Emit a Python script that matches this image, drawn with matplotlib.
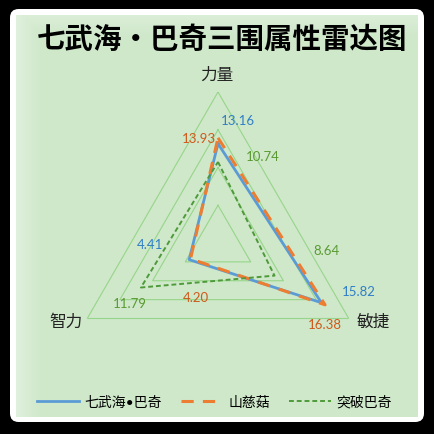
import matplotlib.pyplot as plt
import numpy as np
from matplotlib.patches import FancyBboxPatch, Rectangle

plt.rcParams['font.family'] = ['Noto Sans CJK SC', 'DejaVu Sans']

# data
categories = ['力量', '敏捷', '智力']
series_names = ['七武海•巴奇', '山慈菇', '突破巴奇']
bucky = [13.16, 15.82, 4.41]
shanci = [13.93, 16.38, 4.20]
breakthrough = [10.74, 8.64, 11.79]
grid_levels = [5, 10, 15, 20]

colors = ['#5B9BD5', '#ED7D31', '#4E9A3A']
label_colors = ['#2F7EC7', '#D0581A', '#5A9A32']

# label offsets in pixels (from each point)
label_offsets = [
    [(20, 24), (37, 12), (-39, 16)],
    [(-19, 0), (0, -19), (5, -38)],
    [(45, 6), (52, 26), (-11, -15)],
]

W = H = 435
fig = plt.figure(figsize=(4.35, 4.35), dpi=100, facecolor='black')

# white frame + green panel
fig.patches.append(FancyBboxPatch((10 / W, 12 / H), 414 / W, 413 / H,
                                  boxstyle='round,pad=0,rounding_size=0.02',
                                  transform=fig.transFigure, facecolor='white',
                                  edgecolor='none', zorder=0))
fig.patches.append(Rectangle((16 / W, 17 / H), 402 / W, 402 / H,
                             transform=fig.transFigure, facecolor='#CFE8CA',
                             edgecolor='none', zorder=0))

# soft light glow along the left / top edge of the panel
bg = fig.add_axes([16 / W, 17 / H, 402 / W, 402 / H])
bg.set_zorder(1)
bg.axis('off')
xx, yy = np.meshgrid(np.linspace(0, 1, 200), np.linspace(0, 1, 200))
glow = np.clip(1 - np.minimum(xx / 0.06, 1), 0, 1) * 0.35
glow = np.maximum(glow, np.clip(1 - yy / 0.05, 0, 1) * 0.25)
img = np.zeros((200, 200, 4))
img[..., :3] = 1
img[..., 3] = glow
bg.imshow(img, extent=(0, 1, 0, 1), origin='upper', aspect='auto')

fig.text(222 / W, 1 - 40 / H, '七武海・巴奇三围属性雷达图', ha='center', va='center',
         fontsize=20.5, fontweight='bold', color='black', zorder=5)

cx, cy, rad = 218 / W, 1 - 244 / H, 151 / W
ax = fig.add_axes([cx - rad, cy - rad, 2 * rad, 2 * rad], projection='polar')
ax.set_zorder(2)
ax.set_theta_zero_location('N')
ax.set_theta_direction(-1)
ax.set_ylim(0, 20)
ax.patch.set_alpha(0)
ax.grid(False)
ax.spines['polar'].set_visible(False)
ax.set_xticks([])
ax.set_yticks([])

angles = np.linspace(0, 2 * np.pi, len(categories), endpoint=False)
closed = np.append(angles, angles[0])

for lv in grid_levels:
    ax.plot(closed, [lv] * len(closed), color='#97D58A', lw=0.8, zorder=1)

styles = [
    dict(ls='-', lw=2.0),
    dict(ls=(0, (4, 3)), lw=2.2),
    dict(ls=(0, (2.5, 1.5)), lw=1.4),
]
all_vals = [bucky, shanci, breakthrough]
for vals, name, c, st in zip(all_vals, series_names, colors, styles):
    ax.plot(closed, vals + vals[:1], color=c, label=name, zorder=3, **st)

for vals, offs, lc in zip(all_vals, label_offsets, label_colors):
    for a, v, off in zip(angles, vals, offs):
        ax.annotate(f'{v:.2f}', xy=(a, v), xytext=off, textcoords='offset pixels',
                    ha='center', va='center', fontsize=9.5, color=lc,
                    family=['Lato', 'DejaVu Sans'], annotation_clip=False)

# axis category labels
cat_pos = [(217, 75), (373, 322), (66, 322)]
for name, (px, py) in zip(categories, cat_pos):
    fig.text(px / W, 1 - py / H, name, ha='center', va='center',
             fontsize=12, color='#222222', zorder=5)

handles, labels = ax.get_legend_handles_labels()
leg = fig.legend(handles, labels, loc='center', bbox_to_anchor=(214.5 / W, 1 - 402 / H),
                 ncol=3, frameon=False, handlelength=3.0,
                 columnspacing=1.4, handletextpad=0.4,
                 prop=dict(family=['Lato', 'Noto Sans CJK SC'], size=10))
leg.set_zorder(5)

fig.savefig('out.png', dpi=100, facecolor='black')
